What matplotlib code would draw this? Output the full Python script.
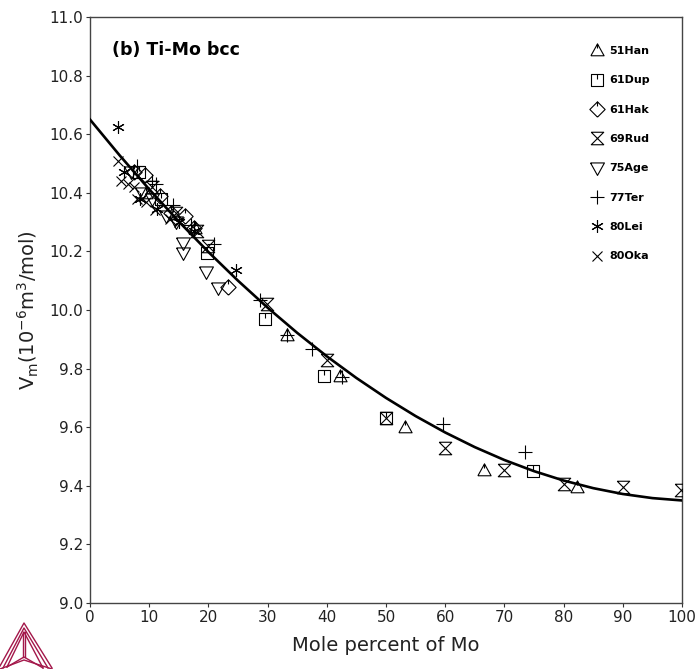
import matplotlib
matplotlib.use("Agg")
import matplotlib.pyplot as plt
from matplotlib.path import Path
from matplotlib.lines import Line2D
import numpy as np

plt.rcParams['font.family'] = ['DejaVu Sans']

# ---- data ----
curve_x = [0, 5, 10, 15, 20, 25, 30, 35, 40, 45, 50, 55, 60, 65, 70, 75, 80, 85, 90, 95, 100]
curve_v = [10.650, 10.528, 10.412, 10.302, 10.198, 10.100, 10.008, 9.922, 9.842, 9.768, 9.700,
           9.638, 9.582, 9.532, 9.488, 9.450, 9.418, 9.392, 9.372, 9.358, 9.350]

han_x = [9.5, 17.8, 33.3, 42.2, 53.2, 66.5, 82.2]
han_v = [10.40, 10.28, 9.915, 9.775, 9.60, 9.455, 9.395]

dup_x = [8.3, 12.0, 19.8, 29.6, 39.6, 50.0, 74.8]
dup_v = [10.47, 10.38, 10.195, 9.97, 9.775, 9.63, 9.45]

hak_x = [7.5, 9.3, 11.8, 13.7, 16.0, 17.5, 23.3]
hak_v = [10.47, 10.46, 10.39, 10.33, 10.32, 10.28, 10.08]

rud_x = [10.5, 14.5, 18.0, 20.0, 29.9, 40.0, 50.0, 59.9, 70.0, 80.0, 90.0, 99.8]
rud_v = [10.42, 10.33, 10.27, 10.22, 10.02, 9.83, 9.63, 9.53, 9.455, 9.405, 9.395, 9.385]

age_x = [7.0, 8.8, 10.5, 12.8, 14.5, 15.7, 15.7, 19.6, 21.6]
age_v = [10.47, 10.40, 10.38, 10.32, 10.30, 10.23, 10.195, 10.13, 10.075]

ter_x = [8.0, 10.5, 11.2, 14.0, 17.0, 21.0, 28.7, 33.3, 37.5, 42.6, 59.6, 73.5]
ter_v = [10.49, 10.44, 10.43, 10.36, 10.29, 10.225, 10.035, 9.915, 9.867, 9.77, 9.61, 9.515]

lei_x = [4.8, 5.8, 8.5, 11.3, 15.0, 17.5, 24.7]
lei_v = [10.625, 10.47, 10.38, 10.345, 10.30, 10.27, 10.135]

oka_x = [4.8, 5.2, 6.5, 7.5, 8.0, 9.5, 11.0, 13.5, 15.0]
oka_v = [10.51, 10.44, 10.43, 10.42, 10.38, 10.37, 10.34, 10.31, 10.30]

labels = ['51Han', '61Dup', '61Hak', '69Rud', '75Age', '77Ter', '80Lei', '80Oka']

# ---- custom markers ----
M, L = Path.MOVETO, Path.LINETO
tri_up = Path([(-1, -0.8), (1, -0.8), (0, 1), (-1, -0.8), (0, 1), (0, 0.3)],
              [M, L, L, L, M, L])
sq_tick = Path([(-1, -1), (1, -1), (1, 1), (-1, 1), (-1, -1), (0, 1), (0, 0.1)],
               [M, L, L, L, L, M, L])
dia_tick = Path([(0, -1), (1, 0), (0, 1), (-1, 0), (0, -1), (0, 1), (0, 0.4)],
                [M, L, L, L, L, M, L])
hourglass = Path([(-1, 1), (1, 1), (-1, -1), (1, -1), (-1, 1)],
                 [M, L, L, L, L])
tri_down = Path([(-1, 0.8), (1, 0.8), (0, -1), (-1, 0.8)], [M, L, L, L])

series = [
    (han_x, han_v, tri_up, 9.5),
    (dup_x, dup_v, sq_tick, 9.0),
    (hak_x, hak_v, dia_tick, 11.0),
    (rud_x, rud_v, hourglass, 9.0),
    (age_x, age_v, tri_down, 10.0),
    (ter_x, ter_v, '+', 10.0),
    (lei_x, lei_v, (6, 2, 0), 9.0),
    (oka_x, oka_v, 'x', 7.0),
]

fig = plt.figure(figsize=(6.97, 6.69), dpi=100)
ax = fig.add_axes([90/697, 1-603/669, 592/697, 586/669])

ax.plot(curve_x, curve_v, color='black', lw=1.9, zorder=3)

handles = []
for (xs, vs, mk, ms), lab in zip(series, labels):
    ax.plot(xs, vs, linestyle='none', marker=mk, markersize=ms,
            markerfacecolor='none', markeredgecolor='black', markeredgewidth=0.8, zorder=4)
    handles.append(Line2D([], [], linestyle='none', marker=mk, markersize=ms,
                          markerfacecolor='none', markeredgecolor='black',
                          markeredgewidth=0.8, label=lab))

ax.set_xlim(0, 100)
ax.set_ylim(9.0, 11.0)
ax.set_xticks(np.arange(0, 101, 10))
ax.set_yticks(np.arange(9.0, 11.01, 0.2))
ax.set_yticklabels([f"{v:.1f}" for v in np.arange(9.0, 11.01, 0.2)])
ax.tick_params(direction='out', length=3, width=0.8, labelsize=11, colors='#333333',
               labelcolor='#222222', pad=2)
for s in ax.spines.values():
    s.set_color('#444444')
    s.set_linewidth(1.0)

ax.set_xlabel('Mole percent of Mo', fontsize=14, color='#222222', labelpad=8)
ax.set_ylabel(r'V$_\mathrm{m}$(10$^{-6}$m$^3$/mol)', fontsize=14, color='#222222', labelpad=6)

ax.text(0.038, 0.944, '(b) Ti-Mo bcc', transform=ax.transAxes, fontsize=12.5,
        fontweight='bold', va='center', ha='left')

leg = ax.legend(handles=handles, loc='upper left', bbox_to_anchor=(0.84, 0.958),
                frameon=False, prop={'size': 8, 'weight': 'bold'},
                labelspacing=1.74, handlelength=1.0, handletextpad=0.6,
                borderaxespad=0)

# Thermo-Calc style logo (decoration), drawn in pixel units of a small corner axes
col = '#A3174A'
lax = fig.add_axes([0, 0, 60/697, 50/669])
lax.set_xlim(0, 60)
lax.set_ylim(669, 619)
lax.axis('off')
lw = 1.0
lax.plot([0, 24, 52], [666, 623, 668], color=col, lw=lw)
lax.plot([3, 24, 48], [668, 628, 668], color=col, lw=lw)
lax.plot([7, 24, 43], [667, 632, 668], color=col, lw=lw)
lax.plot([23.3, 23.3], [632, 657], color=col, lw=lw)
lax.plot([24.7, 24.7], [632, 657], color=col, lw=lw)
lax.plot([7, 24, 43], [667, 657, 668], color=col, lw=lw)
lax.plot([0, 24, 52], [669, 660, 669], color=col, lw=lw)

fig.savefig('out.png', dpi=100)
